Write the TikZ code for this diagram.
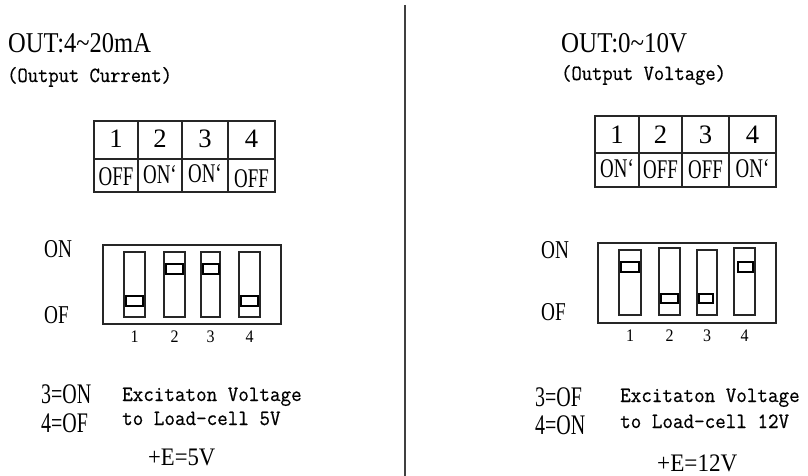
\documentclass[tikz,border=0pt]{standalone}
\usepackage{fontspec}
\setmainfont{Liberation Serif}
\newfontfamily\monofam[FakeBold=0.6]{Latin Modern Mono}
\usepackage{graphicx}
\newcommand\sertxt[4]{\fontsize{#1}{#1}\selectfont\scalebox{#2}[#3]{#4}}
\newcommand\montxt[4]{\monofam\fontsize{#1}{#1}\selectfont\scalebox{#2}[#3]{#4}}
\begin{document}
\begin{tikzpicture}[x=1pt,y=-1pt,
  txt/.style={inner sep=0pt, anchor=base west},
  ctxt/.style={inner sep=0pt, anchor=base},
  grid/.style={line width=1.3pt, draw=black!85},
  case/.style={line width=1.5pt, draw=black!85},
  slot/.style={line width=1.2pt, draw=black!85},
  knob/.style={line width=2pt, draw=black},
  divider/.style={line width=2pt, draw=black!75}]
\useasboundingbox (0,0) rectangle (808,476);
\fill[white] (0,0) rectangle (808,476);

% divider
\coordinate (dtop) at (405,5);
\coordinate (dbot) at (405,476);
\draw[divider] (dtop) -- (dbot);

% ===== LEFT =====
\node[txt] (lt1) at (8,53) {\sertxt{28.7}{0.854}{1}{OUT:4\char`\~20mA}};
\node[txt] (lt2) at (7,82) {\montxt{20}{1}{1.08}{(Output Current)}};

% table
\draw[grid] (94,121) rectangle (275,192);
\draw[grid] (94,159) -- (275,159);
\foreach \x in {138,182,228} \draw[grid] (\x,121) -- (\x,192);
\node[ctxt] (ln1) at (116,147) {\sertxt{26.6}{1}{1}{1}};
\node[ctxt] (ln2) at (160,147) {\sertxt{26.6}{1}{1}{2}};
\node[ctxt] (ln3) at (205,147) {\sertxt{26.6}{1}{1}{3}};
\node[ctxt] (ln4) at (251.5,147) {\sertxt{26.6}{1}{1}{4}};
\node[ctxt] (ls1) at (116,185) {\sertxt{27}{0.7}{1}{OFF}};
\node[ctxt] (ls2) at (160,183) {\sertxt{27}{0.7}{1}{ON`}};
\node[ctxt] (ls3) at (205,182) {\sertxt{27}{0.7}{1}{ON`}};
\node[ctxt] (ls4) at (251.5,187) {\sertxt{27}{0.7}{1}{OFF}};

% DIP
\node[txt] (lon) at (44,257) {\sertxt{25.7}{0.75}{1}{ON}};
\node[txt] (lof) at (44,323) {\sertxt{25.7}{0.75}{1}{OF}};
\draw[case] (103,245) rectangle (281,324);
\draw[slot] (124,252) rectangle (145,317);
\draw[slot] (164,252) rectangle (185,317);
\draw[slot] (201,252) rectangle (220,317);
\draw[slot] (239,252) rectangle (260,317);
\draw[knob] (126,296) rectangle (143,306);
\draw[knob] (166,264) rectangle (183,274);
\draw[knob] (202.5,264) rectangle (218.5,274);
\draw[knob] (241,296) rectangle (258,306);
\node[ctxt] (ld1) at (134.5,342) {\sertxt{16}{1}{1.1}{1}};
\node[ctxt] (ld2) at (174.5,342) {\sertxt{16}{1}{1.1}{2}};
\node[ctxt] (ld3) at (210.5,342) {\sertxt{16}{1}{1.1}{3}};
\node[ctxt] (ld4) at (249.5,342) {\sertxt{16}{1}{1.1}{4}};

% bottom
\node[txt] (lb1) at (41,403) {\sertxt{27}{0.74}{1.05}{3=ON}};
\node[txt] (lb2) at (41,432) {\sertxt{27}{0.74}{1.05}{4=OF}};
\node[txt] (lb3) at (122,401) {\montxt{20.5}{1}{1.06}{Excitaton Voltage}};
\node[txt] (lb4) at (122,425) {\montxt{20.5}{1}{1.06}{to Load-cell 5V}};
\node[txt] (lb5) at (148,465) {\sertxt{25.2}{0.9}{1}{+E=5V}};

% ===== RIGHT =====
\node[txt] (rt1) at (561,53) {\sertxt{28.7}{0.87}{1}{OUT:0\char`\~10V}};
\node[txt] (rt2) at (561,80) {\montxt{20}{1}{1.08}{(Output Voltage)}};

\draw[grid] (595,116) rectangle (776,187);
\draw[grid] (595,153) -- (776,153);
\foreach \x in {639,682,729} \draw[grid] (\x,116) -- (\x,187);
\node[ctxt] (rn1) at (617,143) {\sertxt{26.6}{1}{1}{1}};
\node[ctxt] (rn2) at (660.5,143) {\sertxt{26.6}{1}{1}{2}};
\node[ctxt] (rn3) at (705.5,143) {\sertxt{26.6}{1}{1}{3}};
\node[ctxt] (rn4) at (752.5,143) {\sertxt{26.6}{1}{1}{4}};
\node[ctxt] (rs1) at (617,177) {\sertxt{27}{0.7}{1}{ON`}};
\node[ctxt] (rs2) at (660.5,178) {\sertxt{27}{0.7}{1}{OFF}};
\node[ctxt] (rs3) at (705.5,178) {\sertxt{27}{0.7}{1}{OFF}};
\node[ctxt] (rs4) at (752.5,177) {\sertxt{27}{0.7}{1}{ON`}};

\node[txt] (ron) at (541,258) {\sertxt{25.7}{0.75}{1}{ON}};
\node[txt] (rof) at (541,320) {\sertxt{25.7}{0.75}{1}{OF}};
\draw[case] (598,243) rectangle (776,323);
\draw[slot] (619,250) rectangle (641,315);
\draw[slot] (659,248) rectangle (680,315);
\draw[slot] (697,250) rectangle (717,315);
\draw[slot] (734,248) rectangle (755,315);
\draw[knob] (621,262) rectangle (639,272);
\draw[knob] (661,294) rectangle (678,303);
\draw[knob] (699,294) rectangle (713,303);
\draw[knob] (738,262) rectangle (753,272);
\node[ctxt] (rd1) at (630,341) {\sertxt{16}{1}{1.1}{1}};
\node[ctxt] (rd2) at (669.5,341) {\sertxt{16}{1}{1.1}{2}};
\node[ctxt] (rd3) at (707,341) {\sertxt{16}{1}{1.1}{3}};
\node[ctxt] (rd4) at (744.5,341) {\sertxt{16}{1}{1.1}{4}};

\node[txt] (rb1) at (535,406) {\sertxt{27}{0.74}{1.05}{3=OF}};
\node[txt] (rb2) at (535,434) {\sertxt{27}{0.74}{1.05}{4=ON}};
\node[txt] (rb3) at (620,402) {\montxt{20.5}{1}{1.06}{Excitaton Voltage}};
\node[txt] (rb4) at (620,428) {\montxt{20.5}{1}{1.06}{to Load-cell 12V}};
\node[txt] (rb5) at (657,471) {\sertxt{25.2}{0.92}{1}{+E=12V}};
\end{tikzpicture}
\end{document}
